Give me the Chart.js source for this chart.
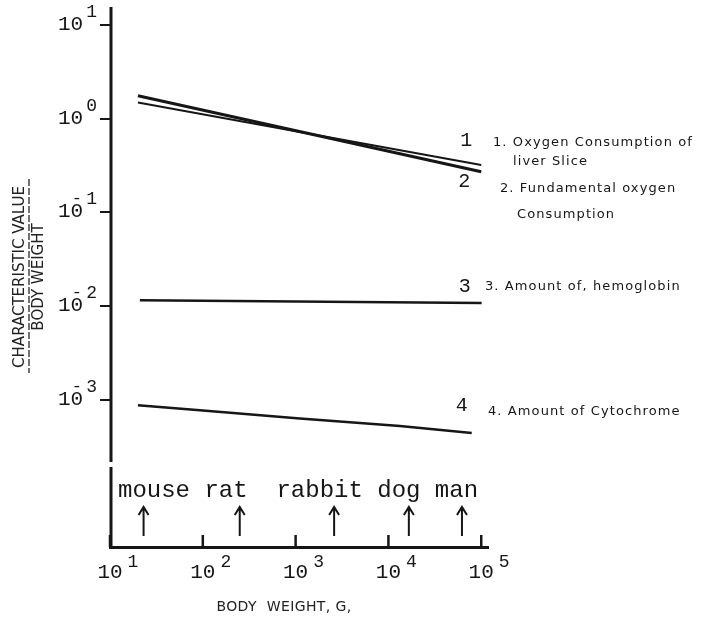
<!DOCTYPE html>
<html>
<head>
<meta charset="utf-8">
<script src="https://cdn.jsdelivr.net/npm/chart.js@4.4.1/dist/chart.umd.min.js"></script>
<style>
  html, body { margin: 0; padding: 0; background: #fff; }
  canvas { display: block; }
</style>
</head>
<body>
<canvas id="c" width="704" height="619"></canvas>
<script>
// ---------------- data ----------------
const seriesNames = [
  'Oxygen Consumption of liver Slice',
  'Fundamental oxygen Consumption',
  'Amount of, hemoglobin',
  'Amount of Cytochrome'
];
const seriesNumbers = ['1', '2', '3', '4'];
const legendLines = [
  ['1. Oxygen Consumption of', 'liver Slice'],
  ['2. Fundamental oxygen', 'Consumption'],
  ['3. Amount of, hemoglobin'],
  ['4. Amount of Cytochrome']
];

// body weight (g) and characteristic value / body weight
const xLiver = [20, 100000];
const oxygenLiverSlice = [1.50, 0.321];

const xFundamental = [20, 100000];
const fundamentalOxygen = [1.77, 0.272];

const xHemoglobin = [21, 101000];
const hemoglobin = [0.01153, 0.01079];

const xCytochrome = [20, 93, 1110, 13300, 79000];
const cytochrome = [8.69e-4, 7.70e-4, 6.27e-4, 5.22e-4, 4.40e-4];

// animals marked by arrows along the weight axis
const animals = ['mouse', 'rat', 'rabbit', 'dog', 'man'];
const animalWeights = [23, 250, 2600, 16600, 62000];

// tick labels (powers of ten)
const xTickExps = [1, 2, 3, 4, 5];
const yTickExps = [1, 0, -1, -2, -3];

const xTitle = 'BODY  WEIGHT, G,';
const yTitle = ['CHARACTERISTIC VALUE', 'BODY WEIGHT'];

// ---------------- styling / layout ----------------
const INK = '#161616';
const MONO = '"Liberation Mono", "Courier New", monospace';
const SANS = '"DejaVu Sans", sans-serif';
const lineWidths = [2, 3, 2.5, 2.5];
const nameGaps = [1, 2, 1, 1];          // typed spaces between animal names
const labelStyles = [
  { numDx: -15, numDy: -24, textDx: 5,  textDy: -22, indent: 20, lineGap: 19 },
  { numDx: -17, numDy: 10,  textDx: 12, textDy: 17,  indent: 17, lineGap: 26 },
  { numDx: -17, numDy: -16, textDx: -3, textDy: -16, indent: 0,  lineGap: 0 },
  { numDx: -10, numDy: -27, textDx: 0,  textDy: -21, indent: 0,  lineGap: 0 }
];

const seriesX = [xLiver, xFundamental, xHemoglobin, xCytochrome];
const seriesY = [oxygenLiverSlice, fundamentalOxygen, hemoglobin, cytochrome];

const paperPlugin = {
  id: 'paper',
  beforeDraw(chart) {
    const { ctx } = chart;
    ctx.save();
    ctx.fillStyle = '#fff';
    ctx.fillRect(0, 0, chart.width, chart.height);
    ctx.restore();
  },
  afterDraw(chart) {
    const { ctx, chartArea: ca, scales: { x, y } } = chart;
    ctx.save();
    ctx.strokeStyle = INK;
    ctx.fillStyle = INK;
    ctx.letterSpacing = '0px';

    // vertical axis, broken above the animal panel
    const panelH = 80, gap = 5;
    ctx.lineWidth = 3;
    ctx.beginPath();
    ctx.moveTo(ca.left + 1, ca.top);
    ctx.lineTo(ca.left + 1, ca.bottom - panelH - gap);
    ctx.moveTo(ca.left + 1, ca.bottom - panelH);
    ctx.lineTo(ca.left + 1, ca.bottom + 1.5);
    ctx.stroke();

    // x tick marks pointing up
    ctx.lineWidth = 2.5;
    xTickExps.forEach(e => {
      const px = x.getPixelForValue(Math.pow(10, e));
      ctx.beginPath();
      ctx.moveTo(px, ca.bottom);
      ctx.lineTo(px, ca.bottom - 12);
      ctx.stroke();
    });

    // x tick labels 10^n
    xTickExps.forEach(e => {
      const px = x.getPixelForValue(Math.pow(10, e));
      ctx.font = '21px ' + MONO;
      ctx.textAlign = 'center';
      ctx.textBaseline = 'alphabetic';
      const w = ctx.measureText('10').width;
      ctx.fillText('10', px, ca.bottom + 31);
      ctx.font = '18px ' + MONO;
      ctx.textAlign = 'left';
      ctx.fillText(String(e), px + w / 2 + 5, ca.bottom + 20);
    });

    // y tick labels 10^n (typewriter style, minus typed over the 0)
    yTickExps.forEach(e => {
      const py = y.getPixelForValue(Math.pow(10, e));
      const supRight = ca.left - 13;
      ctx.textBaseline = 'alphabetic';
      ctx.font = '18px ' + MONO;
      ctx.textAlign = 'right';
      const sup = String(Math.abs(e));
      ctx.fillText(sup, supRight, py - 8);
      const supW = ctx.measureText(sup).width;
      ctx.font = '21px ' + MONO;
      const mainRight = supRight - supW - 3;
      ctx.fillText('10', mainRight, py + 5);
      if (e < 0) {
        const cw = ctx.measureText('0').width;
        ctx.font = '17px ' + MONO;
        ctx.textAlign = 'center';
        ctx.fillText('-', mainRight - cw / 2, py - 9);
      }
    });

    // animal arrows
    ctx.lineWidth = 2;
    animalWeights.forEach(wt => {
      const px = x.getPixelForValue(wt);
      const top = ca.bottom - 40, bot = ca.bottom - 11;
      ctx.beginPath();
      ctx.moveTo(px, bot);
      ctx.lineTo(px, top);
      ctx.moveTo(px - 5, top + 8);
      ctx.lineTo(px, top);
      ctx.lineTo(px + 5, top + 8);
      ctx.stroke();
    });

    // animal names, typed on one line
    ctx.font = '24px ' + MONO;
    ctx.textAlign = 'left';
    ctx.textBaseline = 'alphabetic';
    const cw = ctx.measureText('m').width;
    let col = 0;
    animals.forEach((name, i) => {
      ctx.fillText(name, ca.left + 8 + col * cw, ca.bottom - 50);
      col += name.length + (nameGaps[i] || 0);
    });

    // series numbers and legend texts
    seriesY.forEach((vals, i) => {
      const st = labelStyles[i];
      const xs = seriesX[i];
      const ex = x.getPixelForValue(xs[xs.length - 1]);
      const ey = y.getPixelForValue(vals[vals.length - 1]);
      ctx.letterSpacing = '0px';
      ctx.font = '20px ' + MONO;
      ctx.textAlign = 'center';
      ctx.textBaseline = 'middle';
      ctx.fillText(seriesNumbers[i], ex + st.numDx, ey + st.numDy);
      ctx.font = '13px ' + SANS;
      ctx.letterSpacing = '1.1px';
      ctx.textAlign = 'left';
      legendLines[i].forEach((txt, k) => {
        ctx.fillText(txt, ca.right + st.textDx + (k ? st.indent : 0), ey + st.textDy + k * st.lineGap);
      });
    });

    // fraction bar of the y title
    ctx.letterSpacing = '0px';
    ctx.font = '15px ' + SANS;
    const tw = ctx.measureText(yTitle[0]).width;
    const cy = (ca.top + ca.bottom) / 2;
    ctx.lineWidth = 1.2;
    ctx.setLineDash([7, 2]);
    ctx.beginPath();
    ctx.moveTo(29, cy - tw / 2 - 7);
    ctx.lineTo(29, cy + tw / 2 + 5);
    ctx.stroke();
    ctx.setLineDash([]);

    // x title
    ctx.font = '14px ' + SANS;
    ctx.letterSpacing = '0.4px';
    ctx.textAlign = 'center';
    ctx.textBaseline = 'middle';
    ctx.fillStyle = '#222';
    ctx.fillText(xTitle, (ca.left + ca.right) / 2 - 15, ca.bottom + 60);

    ctx.restore();
  }
};

new Chart(document.getElementById('c'), {
  type: 'scatter',
  data: {
    datasets: seriesNames.map((name, i) => ({
      label: name,
      data: seriesX[i].map((v, k) => ({ x: v, y: seriesY[i][k] })),
      showLine: true,
      borderColor: INK,
      backgroundColor: INK,
      borderWidth: lineWidths[i],
      pointRadius: 0,
      tension: 0
    }))
  },
  options: {
    responsive: false,
    animation: false,
    devicePixelRatio: 1,
    layout: { padding: { top: 7, right: 216, left: 0, bottom: 0 } },
    plugins: { legend: { display: false }, tooltip: { enabled: false } },
    scales: {
      x: {
        type: 'logarithmic',
        min: 10,
        max: Math.pow(10, 5.073),
        grid: { display: false },
        border: { display: true, width: 3, color: INK },
        ticks: { display: false },
        afterBuildTicks: s => { s.ticks = xTickExps.map(e => ({ value: Math.pow(10, e) })); },
        afterFit: s => { s.height = 72; }
      },
      y: {
        type: 'logarithmic',
        min: Math.pow(10, -4.576),
        max: Math.pow(10, 1.196),
        grid: { display: true, drawOnChartArea: false, drawTicks: true, tickLength: 10, lineWidth: 2, color: INK },
        border: { display: false },
        ticks: { display: false },
        afterBuildTicks: s => { s.ticks = yTickExps.map(e => ({ value: Math.pow(10, e) })); },
        afterFit: s => { s.width = 110; },
        title: {
          display: true,
          text: yTitle,
          color: '#222',
          font: { family: SANS, size: 15, lineHeight: 1.3 },
          padding: { top: 10, bottom: 0 }
        }
      }
    }
  },
  plugins: [paperPlugin]
});
</script>
</body>
</html>
